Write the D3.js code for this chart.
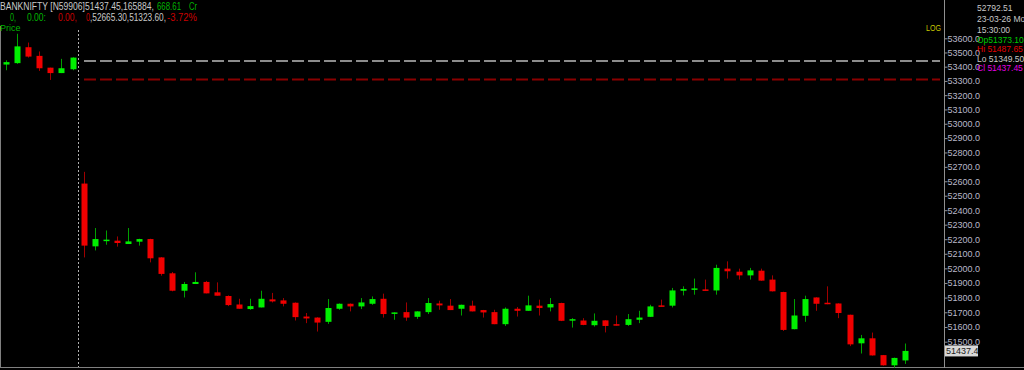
<!DOCTYPE html>
<html>
<head>
<meta charset="utf-8">
<script src="https://cdn.jsdelivr.net/npm/d3@7"></script>
<style>
body{margin:0;background:#000;overflow:hidden}
svg{display:block}
</style>
</head>
<body>
<svg></svg>
<script>
const svgWidth = 1024
const svgHeight = 370

// 5-min candles: 7 from previous session, then 75 from the day
const sessionBreak = 7
const opens = [
  53415, 53425, 53537, 53476, 53393, 53355, 53382,
  52584, 52151, 52190, 52190, 52167, 52183, 52201, 52075, 51966, 51847,
  51893, 51907, 51836, 51811, 51753, 51722, 51733, 51788, 51781, 51765,
  51671, 51664, 51635, 51724, 51758, 51740, 51758, 51792, 51692, 51701,
  51669, 51701, 51760, 51745, 51724, 51745, 51715, 51701, 51619, 51724,
  51710, 51745, 51733, 51763, 51647, 51644, 51612, 51645, 51619, 51614,
  51649, 51669, 51747, 51745, 51847, 51856, 51856, 51849, 51998, 51977,
  51952, 51984, 51923, 51838, 51585, 51676, 51801, 51765, 51760, 51683,
  51489, 51523, 51409, 51340, 51373.10
]
const highs = [
  53445, 53632, 53570, 53507, 53393, 53455, 53466,
  52665.30, 52277, 52260, 52219, 52277, 52203, 52203, 52077, 51975, 51907,
  51973, 51914, 51904, 51815, 51792, 51792, 51847, 51832, 51797, 51767,
  51695, 51666, 51790, 51760, 51760, 51797, 51808, 51827, 51700, 51767,
  51707, 51797, 51779, 51790, 51752, 51779, 51716, 51717, 51733, 51736,
  51813, 51786, 51797, 51765, 51660, 51660, 51692, 51646, 51678, 51688,
  51710, 51751, 51786, 51866, 51877, 51930, 51923, 52025, 52048, 51998,
  52003, 51998, 51952, 51840, 51790, 51813, 51802, 51877, 51761, 51684,
  51546, 51562, 51410, 51392, 51487.65
]
const lows = [
  53375, 53420, 53464, 53370, 53307, 53355, 53375,
  52075, 52123, 52162, 52149, 52167, 52156, 52041, 51950, 51843, 51801,
  51893, 51829, 51813, 51742, 51724, 51717, 51733, 51767, 51740, 51644,
  51626, 51569, 51621, 51717, 51706, 51722, 51751, 51664, 51649, 51642,
  51655, 51688, 51717, 51715, 51678, 51706, 51664, 51619, 51607, 51671,
  51710, 51678, 51706, 51640, 51596, 51612, 51603, 51563, 51610, 51607,
  51626, 51668, 51739, 51733, 51815, 51820, 51848, 51820, 51930, 51923,
  51923, 51915, 51842, 51573, 51584, 51635, 51710, 51755, 51660, 51470,
  51420, 51406, 51338, 51323.60, 51349.50
]
const closes = [
  53432, 53543, 53471, 53389, 53355, 53389, 53464,
  52156, 52201, 52197, 52174, 52185, 52201, 52069, 51962, 51847, 51893,
  51907, 51829, 51813, 51749, 51724, 51742, 51792, 51774, 51758, 51667,
  51658, 51630, 51729, 51758, 51740, 51767, 51790, 51688, 51699, 51664,
  51706, 51763, 51747, 51715, 51751, 51706, 51699, 51619, 51724, 51710,
  51747, 51729, 51756, 51642, 51653, 51614, 51642, 51607, 51612, 51653,
  51664, 51740, 51740, 51849, 51859, 51863, 51849, 52003, 51980, 51952,
  51986, 51916, 51843, 51580, 51678, 51790, 51758, 51756, 51695, 51482,
  51523, 51407, 51340, 51390, 51437.45
]

const priceTicks = d3.range(51500, 53601, 100)
const prevClose = 53440
const refLevel = 53310
const lastPrice = 51437.45

const headerLine1 = [
  {t:"BANKNIFTY [N59906]51437.45,165884,", c:"#c8c8c8"},
  {t:"668.61", c:"#00b400"},
  {t:"Cr", c:"#00b400"}
]
const headerLine2 = [
  {t:"0,", c:"#00b400"},
  {t:"0.00:", c:"#00b400"},
  {t:"0.00,", c:"#c80000"},
  {t:"0", c:"#c80000"},
  {t:",52665.30,51323.60,", c:"#c8c8c8"},
  {t:"-3.72%", c:"#c80000"}
]
// [x, width] of each header piece
const headerPos1 = [[0, 154], [157, 24], [189, 8]]
const headerPos2 = [[10, 6], [27, 19], [58, 19], [86, 4], [90, 76], [167, 30]]

const infoLines = [
  {t:"52792.51", c:"#c8c8c8"},
  {t:"23-03-26 Mo", c:"#c8c8c8"},
  {t:"15:30:00", c:"#c8c8c8"},
  {t:"Op51373.10", c:"#00c800"},
  {t:"Hi 51487.65", c:"#e00000"},
  {t:"Lo 51349.50", c:"#c8c8c8"},
  {t:"Cl 51437.45", c:"#e000e0"}
]
const infoY = [10.5, 21.5, 32.5, 42.5, 52, 61.5, 70.5]

const axisX = 944.5
const font = "'Liberation Sans', Arial, sans-serif"

const svg = d3.select("svg")
  .attr("width", svgWidth)
  .attr("height", svgHeight)
  .style("background", "#000")

const xScale = d3.scaleLinear()
  .domain([0, opens.length - 1])
  .range([6, 905])
const yScale = d3.scaleLog()
  .domain([51500, 53600])
  .range([341.7, 38.3])

// frame
svg.append("line").attr("x1",0.5).attr("x2",0.5).attr("y1",26).attr("y2",368)
  .attr("stroke","#808080")
svg.append("line").attr("x1",0).attr("x2",svgWidth).attr("y1",367.5).attr("y2",367.5)
  .attr("stroke","#808080")
svg.append("line").attr("x1",axisX).attr("x2",axisX).attr("y1",0).attr("y2",368)
  .attr("stroke","#909090")

// session separator
svg.append("line")
  .attr("x1", Math.round(xScale(sessionBreak - 0.5)) + 0.5)
  .attr("x2", Math.round(xScale(sessionBreak - 0.5)) + 0.5)
  .attr("y1", 30).attr("y2", 367)
  .attr("stroke", "#b0b0b0")
  .attr("stroke-dasharray", "2,2")

// reference levels
svg.append("line")
  .attr("x1", 84).attr("x2", 940)
  .attr("y1", yScale(prevClose)).attr("y2", yScale(prevClose))
  .attr("stroke", "#8c8c8c").attr("stroke-width", 2)
  .attr("stroke-dasharray", "12,4")
svg.append("line")
  .attr("x1", 84).attr("x2", 940)
  .attr("y1", yScale(refLevel)).attr("y2", yScale(refLevel))
  .attr("stroke", "#8a0000").attr("stroke-width", 2)
  .attr("stroke-dasharray", "12,4")

// candles
const candles = opens.map((o, i) => ({i:i, o:o, h:highs[i], l:lows[i], c:closes[i]}))
const g = svg.append("g")
g.selectAll("line.wick")
  .data(candles)
  .enter()
  .append("line")
  .attr("class", "wick")
  .attr("x1", (d) => Math.round(xScale(d.i)) + 0.5)
  .attr("x2", (d) => Math.round(xScale(d.i)) + 0.5)
  .attr("y1", (d) => yScale(d.h))
  .attr("y2", (d) => yScale(d.l))
  .attr("stroke", (d) => d.c >= d.o ? "#00a000" : "#a00000")
g.selectAll("rect.body")
  .data(candles)
  .enter()
  .append("rect")
  .attr("class", "body")
  .attr("x", (d) => Math.round(xScale(d.i)) - 2.5)
  .attr("width", 6)
  .attr("y", (d) => yScale(Math.max(d.o, d.c)))
  .attr("height", (d) => Math.max(1.5, Math.abs(yScale(d.o) - yScale(d.c))))
  .attr("fill", (d) => d.c >= d.o ? "#00f000" : "#f00000")

// price axis
const axis = svg.append("g")
  .attr("transform", `translate(${axisX},0)`)
  .call(d3.axisRight(yScale).tickValues(priceTicks).tickFormat(d3.format(".1f")).tickSize(3).tickPadding(0))
axis.select(".domain").remove()
axis.selectAll("line").attr("stroke", "#909090")
axis.selectAll("text")
  .attr("fill", "#b8b8c8")
  .style("font-family", font)
  .style("font-size", "9px")

// last price box
svg.append("rect")
  .attr("x", 945).attr("y", yScale(lastPrice) - 5.5)
  .attr("width", 33).attr("height", 11)
  .attr("fill", "#d8d8d8")
svg.append("text")
  .attr("x", 946).attr("y", yScale(lastPrice) + 3.5)
  .attr("fill", "#202020")
  .style("font-family", font).style("font-size", "9px")
  .text("51437.4")

// header
const h1 = svg.append("text").attr("y", 9.5).style("font-family", font).style("font-size", "10px")
headerLine1.forEach((s, i) => {
  h1.append("tspan")
    .attr("x", headerPos1[i][0])
    .attr("textLength", headerPos1[i][1])
    .attr("lengthAdjust", "spacingAndGlyphs")
    .attr("fill", s.c).text(s.t)
})
const h2 = svg.append("text").attr("y", 21).style("font-family", font).style("font-size", "10px")
headerLine2.forEach((s, i) => {
  h2.append("tspan")
    .attr("x", headerPos2[i][0])
    .attr("textLength", headerPos2[i][1])
    .attr("lengthAdjust", "spacingAndGlyphs")
    .attr("fill", s.c).text(s.t)
})
svg.append("text").attr("x", 0).attr("y", 31)
  .attr("fill", "#00b400")
  .style("font-family", font).style("font-size", "9px")
  .text("Price")
svg.append("text").attr("x", 926).attr("y", 31)
  .attr("fill", "#c8c800")
  .attr("textLength", 15).attr("lengthAdjust", "spacingAndGlyphs")
  .style("font-family", font).style("font-size", "9px")
  .text("LOG")

// info panel
svg.selectAll("text.info")
  .data(infoLines)
  .enter()
  .append("text")
  .attr("class", "info")
  .attr("x", 977)
  .attr("y", (d, i) => infoY[i])
  .attr("fill", (d) => d.c)
  .style("font-family", font)
  .style("font-size", "8.5px")
  .text((d) => d.t)
</script>
</body>
</html>
